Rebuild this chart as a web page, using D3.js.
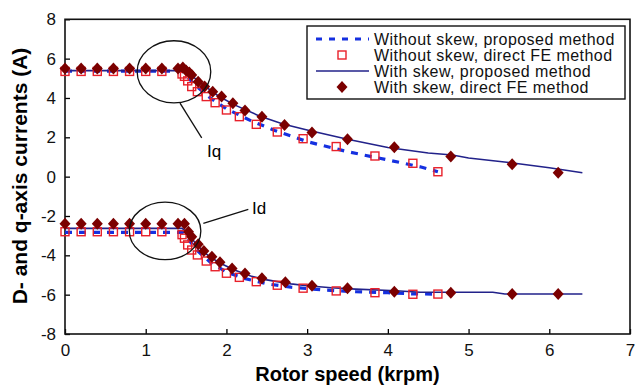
<!DOCTYPE html>
<html>
<head>
<meta charset="utf-8">
<script src="https://cdn.jsdelivr.net/npm/d3@7"></script>
<style>
  body { margin: 0; background: #fff; }
  text { font-family: Arial, "Liberation Sans", sans-serif; }
</style>
</head>
<body>
<svg id="chart" width="636" height="387"></svg>
<script>
// Iq (q-axis current) series
var iqLineNoSkewX  = [0, 1.45, 1.6, 1.8, 2.0, 2.3, 2.6, 3.0, 3.5, 4.0, 4.4, 4.62];
var iqLineNoSkewY  = [5.37, 5.37, 4.7, 4.0, 3.45, 2.85, 2.35, 1.78, 1.27, 0.85, 0.5, 0.25];
var iqLineSkewX    = [0, 1.45, 1.55, 1.7, 1.9, 2.1, 2.4, 2.7, 3.0, 3.5, 4.0, 4.5, 4.8, 5.0, 5.5, 6.0, 6.41];
var iqLineSkewY    = [5.39, 5.39, 5.2, 4.7, 4.1, 3.65, 3.1, 2.68, 2.37, 1.9, 1.48, 1.2, 1.1, 0.95, 0.72, 0.45, 0.2];
var squareX        = [0, 0.2, 0.4, 0.6, 0.8, 1.0, 1.2, 1.45, 1.48, 1.52, 1.57, 1.64, 1.75, 1.86, 2.0, 2.16, 2.37, 2.63, 2.95, 3.36, 3.84, 4.31, 4.62];
var iqSquareY      = [5.35, 5.35, 5.35, 5.35, 5.35, 5.35, 5.35, 5.22, 5.1, 4.87, 4.58, 4.32, 4.07, 3.76, 3.39, 3.05, 2.66, 2.27, 1.93, 1.53, 1.05, 0.68, 0.25];
var iqDiamondX     = [0, 0.2, 0.4, 0.6, 0.8, 1.0, 1.2, 1.4, 1.46, 1.5, 1.54, 1.57, 1.65, 1.73, 1.83, 1.94, 2.08, 2.23, 2.44, 2.72, 3.06, 3.5, 4.08, 4.78, 5.54, 6.11];
var iqDiamondY     = [5.5, 5.5, 5.5, 5.5, 5.5, 5.5, 5.5, 5.5, 5.55, 5.4, 5.29, 5.17, 4.83, 4.58, 4.32, 4.07, 3.73, 3.36, 3.05, 2.63, 2.24, 1.9, 1.5, 1.02, 0.63, 0.2];

// Id (d-axis current) series
var idLineNoSkewX  = [0, 1.45, 1.55, 1.65, 1.8, 2.0, 2.2, 2.5, 2.8, 3.2, 3.6, 4.0, 4.3, 4.62];
var idLineNoSkewY  = [-2.83, -2.83, -3.3, -3.8, -4.35, -4.85, -5.15, -5.45, -5.62, -5.76, -5.85, -5.9, -5.96, -5.97];
var idLineSkewX    = [0, 1.45, 1.52, 1.6, 1.7, 1.8, 1.95, 2.1, 2.3, 2.5, 2.8, 3.0, 3.3, 3.6, 4.1, 4.4, 5.3, 5.45, 6.41];
var idLineSkewY    = [-2.63, -2.63, -2.85, -3.3, -3.75, -4.1, -4.45, -4.75, -5.05, -5.25, -5.45, -5.55, -5.65, -5.72, -5.8, -5.88, -5.88, -5.97, -5.97];
var idSquareY      = [-2.8, -2.8, -2.8, -2.8, -2.8, -2.8, -2.8, -2.95, -3.13, -3.47, -3.73, -3.98, -4.29, -4.58, -4.91, -5.12, -5.34, -5.52, -5.67, -5.81, -5.9, -5.98, -5.97];
var idDiamondX     = [0, 0.2, 0.4, 0.6, 0.8, 1.0, 1.2, 1.4, 1.48, 1.53, 1.57, 1.65, 1.72, 1.82, 1.92, 2.07, 2.23, 2.44, 2.73, 3.06, 3.5, 4.08, 4.78, 5.54, 6.11];
var idDiamondY     = [-2.4, -2.4, -2.4, -2.4, -2.4, -2.4, -2.4, -2.4, -2.4, -2.8, -3.05, -3.44, -3.78, -4.07, -4.35, -4.67, -4.93, -5.17, -5.37, -5.55, -5.68, -5.85, -5.9, -5.97, -5.97];

var xTicks = [0, 1, 2, 3, 4, 5, 6, 7];
var yTicks = [-8, -6, -4, -2, 0, 2, 4, 6, 8];
var legendLabels = ["Without skew, proposed method", "Without skew, direct FE method",
                    "With skew, proposed method", "With skew, direct FE method"];

var blue = "#1530e0", navy = "#22228a", red = "#e8202a", maroon = "#7b0000";

var svg = d3.select("#chart");
var padL = 65, padR = 630, padT = 19.3, padB = 334;

var x = d3.scaleLinear().domain([0, 7]).range([padL, padR]);
var y = d3.scaleLinear().domain([-8, 8]).range([padB, padT]);

function zip(xs, ys) { return xs.map(function(v, i) { return [v, ys[i]]; }); }

var line = d3.line().x(function(d) { return x(d[0]); }).y(function(d) { return y(d[1]); });

function styleAxis(g) {
  g.select(".domain").remove();
  g.selectAll("line").attr("stroke", "#000").attr("stroke-width", 1.3);
  g.selectAll("text").attr("font-size", 17).attr("fill", "#111")
    .attr("font-family", "Arial, 'Liberation Sans', sans-serif");
}

// axes (ticks inside), plain hyphen for negatives like the original
svg.append("g")
  .attr("transform", "translate(0," + padB + ")")
  .call(d3.axisBottom(x).tickValues(xTicks).tickFormat(function(d) { return String(d); })
    .tickSizeInner(-5).tickSizeOuter(0).tickPadding(10))
  .call(styleAxis);

svg.append("g")
  .attr("transform", "translate(" + padL + ",0)")
  .call(d3.axisLeft(y).tickValues(yTicks).tickFormat(function(d) { return String(d); })
    .tickSizeInner(-5).tickSizeOuter(0).tickPadding(9))
  .call(styleAxis);

// frame
svg.append("rect")
  .attr("x", padL).attr("y", padT)
  .attr("width", padR - padL).attr("height", padB - padT)
  .attr("fill", "none").attr("stroke", "#111").attr("stroke-width", 1.6);

// lines
var lines = [
  { d: zip(iqLineNoSkewX, iqLineNoSkewY), dashed: true },
  { d: zip(idLineNoSkewX, idLineNoSkewY), dashed: true },
  { d: zip(iqLineSkewX, iqLineSkewY), dashed: false },
  { d: zip(idLineSkewX, idLineSkewY), dashed: false }
];
lines.forEach(function(l) {
  svg.append("path")
    .attr("d", line(l.d))
    .attr("fill", "none")
    .attr("stroke", l.dashed ? blue : navy)
    .attr("stroke-width", l.dashed ? 3.2 : 1.6)
    .attr("stroke-dasharray", l.dashed ? "7,7" : null);
});

// markers
var sq = 8;
function squares(xs, ys) {
  svg.append("g").selectAll("rect")
    .data(zip(xs, ys))
    .join("rect")
    .attr("x", function(d) { return x(d[0]) - sq / 2; })
    .attr("y", function(d) { return y(d[1]) - sq / 2; })
    .attr("width", sq).attr("height", sq)
    .attr("fill", "none").attr("stroke", red).attr("stroke-width", 1.4);
}
var diamondPath = "M0,-6L5.5,0L0,6L-5.5,0Z";
function diamonds(xs, ys) {
  svg.append("g").selectAll("path")
    .data(zip(xs, ys))
    .join("path")
    .attr("d", diamondPath)
    .attr("transform", function(d) { return "translate(" + x(d[0]) + "," + y(d[1]) + ")"; })
    .attr("fill", maroon);
}
squares(squareX, iqSquareY);
squares(squareX, idSquareY);
diamonds(iqDiamondX, iqDiamondY);
diamonds(idDiamondX, idDiamondY);

// annotations
function ellipse(cx, cy, rx, ry) {
  svg.append("ellipse")
    .attr("cx", x(cx)).attr("cy", y(cy))
    .attr("rx", x(cx + rx) - x(cx)).attr("ry", y(cy) - y(cy + ry))
    .attr("fill", "none").attr("stroke", "#111").attr("stroke-width", 1.3);
}
function leader(x1, y1, x2, y2) {
  svg.append("line")
    .attr("x1", x(x1)).attr("y1", y(y1)).attr("x2", x(x2)).attr("y2", y(y2))
    .attr("stroke", "#111").attr("stroke-width", 1.3);
}
ellipse(1.35, 5.33, 0.456, 1.58);
leader(1.425, 3.74, 1.694, 1.97);
svg.append("text").attr("x", x(1.76)).attr("y", y(1.0)).attr("font-size", 17).text("Iq");

ellipse(1.24, -2.76, 0.443, 1.46);
leader(1.714, -2.37, 2.271, -1.66);
svg.append("text").attr("x", x(2.317)).attr("y", y(-1.9)).attr("font-size", 17).text("Id");

// legend
var lg = svg.append("g");
lg.append("rect").attr("x", 307).attr("y", 26).attr("width", 318).attr("height", 73)
  .attr("fill", "#fff").attr("stroke", "#111").attr("stroke-width", 1.4);
var rowY = [39, 55, 71, 87];
legendLabels.forEach(function(t, i) {
  lg.append("text").attr("x", 374).attr("y", rowY[i] + 5.5)
    .attr("font-size", 16).attr("letter-spacing", 0.45).attr("fill", "#111").text(t);
});
lg.append("line").attr("x1", 316).attr("x2", 369).attr("y1", rowY[0]).attr("y2", rowY[0])
  .attr("stroke", blue).attr("stroke-width", 3.2).attr("stroke-dasharray", "6,7");
lg.append("rect").attr("x", 342 - sq / 2).attr("y", rowY[1] - sq / 2).attr("width", sq).attr("height", sq)
  .attr("fill", "none").attr("stroke", red).attr("stroke-width", 1.4);
lg.append("line").attr("x1", 316).attr("x2", 369).attr("y1", rowY[2]).attr("y2", rowY[2])
  .attr("stroke", navy).attr("stroke-width", 1.6);
lg.append("path").attr("d", diamondPath).attr("transform", "translate(342," + rowY[3] + ")").attr("fill", maroon);

// axis titles
svg.append("text")
  .attr("x", (padL + padR) / 2).attr("y", 381)
  .attr("text-anchor", "middle").attr("font-size", 20).attr("font-weight", "bold")
  .text("Rotor speed (krpm)");
svg.append("text")
  .attr("transform", "translate(27,176) rotate(-90)")
  .attr("text-anchor", "middle").attr("font-size", 21).attr("font-weight", "bold")
  .text("D- and q-axis currents (A)");
</script>
</body>
</html>
